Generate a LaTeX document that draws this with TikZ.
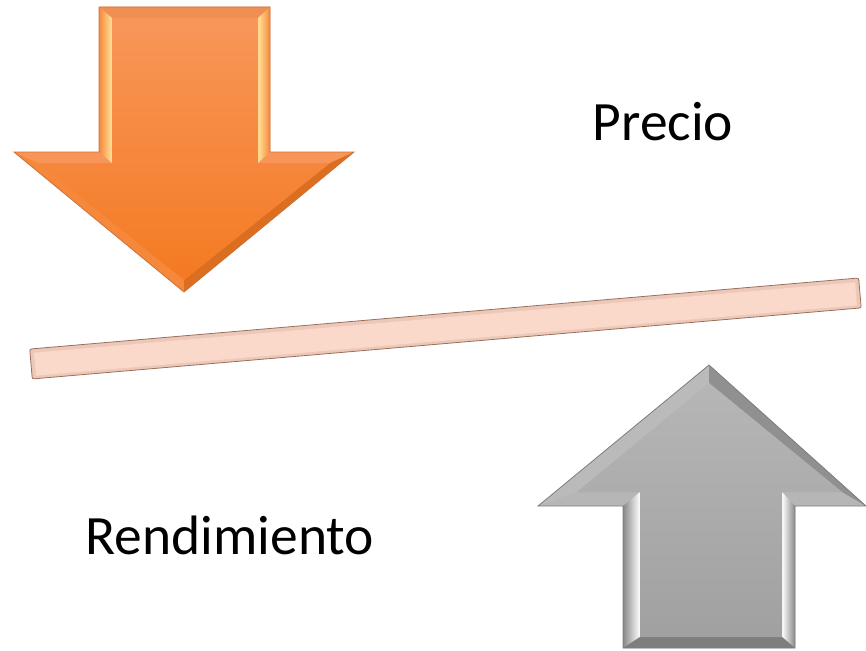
\documentclass[tikz,border=0pt]{standalone}
\usepackage{fontspec}
\setmainfont{Carlito}
\definecolor{orangemid}{HTML}{F6883C}
\definecolor{orangetop}{HTML}{F8965A}
\definecolor{orangelow}{HTML}{F47A22}
\definecolor{orangerim}{HTML}{C9733E}
\definecolor{orangelite}{HTML}{FFE39A}
\definecolor{graymid}{HTML}{A9A9A9}
\definecolor{grayrim}{HTML}{7E7E7E}
\definecolor{barfill}{HTML}{FAD8CA}
\definecolor{barrim}{HTML}{9C6E5C}
\begin{document}
\begin{tikzpicture}[x=1pt,y=-1pt]
    \useasboundingbox (0,0) rectangle (866,650);
    \tikzset{label text/.style={font=\fontsize{55.5}{60}\selectfont, inner sep=0pt, anchor=base}}

    % down arrow (orange)
    \fill[orangetop] (99,7) -- (270,7) -- (270,152) -- (354,152) -- (184,292) -- (14,152) -- (99,152) -- cycle;
    \fill[orangetop!80!orangerim] (99,7) -- (270,7) -- (258,18) -- (112,18) -- cycle;
    \shade[left color=orangemid, right color=orangelite] (99,7) -- (112,18) -- (112,163) -- (99,152) -- cycle;
    \shade[left color=orangelite, right color=orangemid] (270,7) -- (258,18) -- (258,163) -- (270,152) -- cycle;
    \fill[orangemid] (14,152) -- (38,163) -- (184,280) -- (184,292) -- cycle;
    \fill[orangelow!90!black] (354,152) -- (330,163) -- (184,280) -- (184,292) -- cycle;
    \shade[top color=orangetop, bottom color=orangelow] (112,18) -- (258,18) -- (258,163) -- (330,163) -- (184,280) -- (38,163) -- (112,163) -- cycle;
    \draw[orangerim, line width=0.8pt] (99,7) -- (270,7) -- (270,152) -- (354,152) -- (184,292) -- (14,152) -- (99,152) -- cycle;

    % up arrow (gray)
    \fill[graymid!85!white] (709,365) -- (866,506) -- (795,506) -- (795,648) -- (623,648) -- (623,506) -- (538,506) -- cycle;
    \fill[graymid!80!white] (538,506) -- (709,365) -- (709,383) -- (577,492) -- cycle;
    \fill[graymid!85!black] (866,506) -- (709,365) -- (709,383) -- (842,492) -- cycle;
    \shade[left color=graymid!80!black, right color=white] (623,506) -- (640,492) -- (640,637) -- (623,648) -- cycle;
    \shade[left color=white, right color=graymid!80!black] (795,506) -- (782,492) -- (782,637) -- (795,648) -- cycle;
    \fill[grayrim] (623,648) -- (640,637) -- (782,637) -- (795,648) -- cycle;
    \shade[top color=graymid!85!white, bottom color=graymid!95!black] (709,383) -- (842,492) -- (782,492) -- (782,637) -- (640,637) -- (640,492) -- (577,492) -- cycle;
    \draw[grayrim, line width=0.8pt] (709,365) -- (866,506) -- (795,506) -- (795,648) -- (623,648) -- (623,506) -- (538,506) -- cycle;

    % tilted bar
    \begin{scope}[shift={(31,364)}, rotate=4.9]
        \fill[barfill!85!barrim] (0,-15) rectangle (832,15);
        \fill[barfill] (4,-11) rectangle (828,12);
        \draw[barrim, line width=0.8pt, rounded corners=2pt] (0,-15) rectangle (832,15);
    \end{scope}

    % labels
    \node[label text] (precio) at (663,140) {Precio};
    \node[label text] (rendimiento) at (230,554) {Rendimiento};
\end{tikzpicture}
\end{document}
